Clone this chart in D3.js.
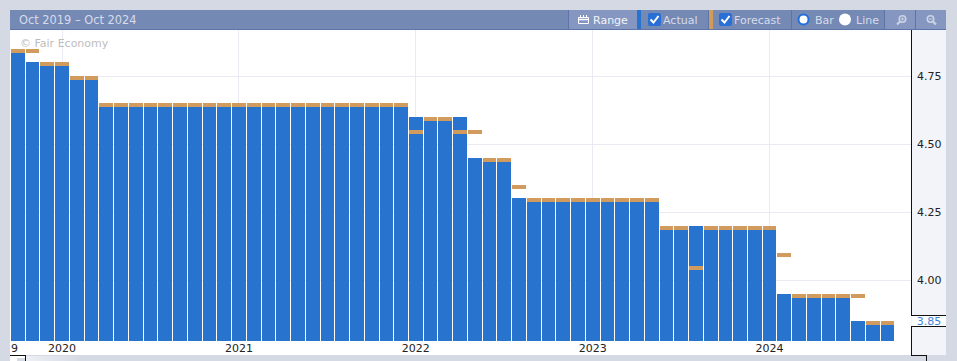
<!DOCTYPE html>
<html><head><meta charset="utf-8">
<script src="https://cdn.jsdelivr.net/npm/d3@7/dist/d3.min.js"></script>
<style>html,body{margin:0;padding:0;background:#d5d9e3;overflow:hidden}svg{display:block}text{font-family:"DejaVu Sans",sans-serif}</style>
</head><body><svg id="c" width="957" height="361"></svg>
<script>
const months = ["2019-10","2019-11","2019-12",
"2020-01","2020-02","2020-03","2020-04","2020-05","2020-06","2020-07","2020-08","2020-09","2020-10","2020-11","2020-12",
"2021-01","2021-02","2021-03","2021-04","2021-05","2021-06","2021-07","2021-08","2021-09","2021-10","2021-11","2021-12",
"2022-01","2022-02","2022-03","2022-04","2022-05","2022-06","2022-07","2022-08","2022-09","2022-10","2022-11","2022-12",
"2023-01","2023-02","2023-03","2023-04","2023-05","2023-06","2023-07","2023-08","2023-09","2023-10","2023-11","2023-12",
"2024-01","2024-02","2024-03","2024-04","2024-05","2024-06","2024-07","2024-08","2024-09"];
const actual = [4.85,4.80,4.80,4.80,4.75,4.75,
4.65,4.65,4.65,4.65,4.65,4.65,4.65,4.65,4.65,4.65,4.65,4.65,4.65,4.65,4.65,4.65,4.65,4.65,4.65,4.65,4.65,
4.60,4.60,4.60,4.60,4.45,4.45,4.45,4.30,
4.30,4.30,4.30,4.30,4.30,4.30,4.30,4.30,4.30,
4.20,4.20,4.20,4.20,4.20,4.20,4.20,4.20,
3.95,3.95,3.95,3.95,3.95,3.85,3.85,3.85];
const forecast = [4.85,4.85,4.80,4.80,4.75,4.75,
4.65,4.65,4.65,4.65,4.65,4.65,4.65,4.65,4.65,4.65,4.65,4.65,4.65,4.65,4.65,4.65,4.65,4.65,4.65,4.65,4.65,
4.55,4.60,4.60,4.55,4.55,4.45,4.45,4.35,
4.30,4.30,4.30,4.30,4.30,4.30,4.30,4.30,4.30,
4.20,4.20,4.05,4.20,4.20,4.20,4.20,4.20,
4.10,3.95,3.95,3.95,3.95,3.95,3.85,3.85];
const yTicks = [4.00,4.25,4.50,4.75];
const yearTicks = ["2020-01","2021-01","2022-01","2023-01","2024-01"];
const yearLabels = ["2020","2021","2022","2023","2024"];
const latest = 3.85;
const title = "Oct 2019 – Oct 2024";
const credit = "© Fair Economy";

const svg = d3.select("#c");
const pitch = 14.74;
const x = d3.scaleBand().domain(months).range([11,11+60*pitch-1]).paddingInner(1/pitch).paddingOuter(0);
const y = d3.scaleLinear().domain([4,4.75]).range([280,76]);
const plotBottom = 341;
const C = {blue:"#2873ce",orange:"#d19b5e",grid:"#eaeaf3",head:"#7589b5",headLight:"#8597c0",sep:"#5f74a6",txt:"#d6dcea",panel:"#f2f4f9"};

svg.append("rect").attr("x",10).attr("y",10).attr("width",936).attr("height",345).attr("fill","#fff");
svg.append("rect").attr("x",911).attr("y",30).attr("width",35).attr("height",325).attr("fill",C.panel);

// grid
const g = svg.append("g").attr("shape-rendering","crispEdges");
g.selectAll(".gy").data(yTicks).join("line").attr("x1",11).attr("x2",911)
 .attr("y1",d=>y(d)+.5).attr("y2",d=>y(d)+.5).attr("stroke",C.grid);
const gridX = d=>Math.floor(x(d)+x.bandwidth()/2)+.5;
g.selectAll(".gx").data(yearTicks).join("line").attr("y1",30).attr("y2",plotBottom)
 .attr("x1",gridX).attr("x2",gridX).attr("stroke",C.grid);

svg.append("text").attr("x",20).attr("y",47).attr("font-size",11).attr("fill","#bdbdbd").text(credit);

// bars
g.selectAll(".a").data(months).join("rect").attr("x",d=>x(d)).attr("width",x.bandwidth())
 .attr("y",(d,i)=>y(actual[i])).attr("height",(d,i)=>plotBottom-y(actual[i])).attr("fill",C.blue);
g.selectAll(".f").data(months).join("rect").attr("x",d=>x(d)).attr("width",x.bandwidth())
 .attr("y",(d,i)=>y(forecast[i])).attr("height",4).attr("fill",C.orange);

// y axis
const yAxis = d3.axisRight(y).tickValues(yTicks).tickSize(0).tickPadding(6).tickFormat(d3.format(".2f"));
const ya = svg.append("g").attr("transform","translate(911,0)").call(yAxis);
ya.select(".domain").remove();
ya.selectAll("text").attr("font-size",11).attr("font-family","DejaVu Sans").attr("fill","#222");

// x axis
const xAxis = d3.axisBottom(x).tickValues(yearTicks).tickSize(0).tickPadding(0).tickFormat((d,i)=>yearLabels[i]);
const xa = svg.append("g").attr("transform","translate(0,343)").call(xAxis);
xa.select(".domain").remove();
xa.selectAll("text").attr("font-size",11).attr("font-family","DejaVu Sans").attr("fill","#222").attr("y",9).attr("dy",0);
svg.append("text").attr("x",11).attr("y",352).attr("font-size",11).attr("fill","#222").text("9");

// lower scrollbar remnants
const defs = svg.append("defs");
const lg = defs.append("linearGradient").attr("id","fade");
lg.append("stop").attr("offset",0).attr("stop-color","#eef0f5");
lg.append("stop").attr("offset",1).attr("stop-color","#d5d9e3");
svg.append("rect").attr("x",26).attr("y",356).attr("width",56).attr("height",5).attr("fill","url(#fade)");
svg.append("rect").attr("x",10).attr("y",356).attr("width",15).attr("height",5).attr("fill","#fff");
svg.append("rect").attr("x",17).attr("y",358).attr("width",8).attr("height",3).attr("fill","#d5d9e3");

// frame lines
const k = svg.append("g").attr("shape-rendering","crispEdges").attr("stroke","#111").attr("fill","none");
k.append("path").attr("d","M911.5 30V315.5H946");
k.append("path").attr("d","M946 326.5H911.5V355.5H926.5V361");
k.append("path").attr("d","M10 355.5H25.5V361");
svg.append("rect").attr("x",912).attr("y",316).attr("width",34).attr("height",10).attr("fill","#fff");
svg.append("text").attr("x",929).attr("y",325).attr("text-anchor","middle").attr("font-size",11).attr("fill","#3d85d8").text(d3.format(".2f")(latest));

// header
const h = svg.append("g");
h.append("rect").attr("x",10).attr("y",10).attr("width",936).attr("height",19).attr("fill",C.head);
h.append("rect").attr("x",10).attr("y",29).attr("width",936).attr("height",1).attr("fill",C.sep);
h.append("text").attr("x",19).attr("y",24).attr("font-size",11.4).attr("fill",C.txt).text(title);
h.append("rect").attr("x",569).attr("y",10).attr("width",68).attr("height",19).attr("fill",C.headLight);
h.append("rect").attr("x",885).attr("y",10).attr("width",61).attr("height",19).attr("fill",C.headLight);
[568,708,791,884,915].forEach(v=>h.append("rect").attr("x",v).attr("y",10).attr("width",1).attr("height",19).attr("fill",C.sep));
h.append("rect").attr("x",637).attr("y",10).attr("width",4).attr("height",19).attr("fill",C.blue);
h.append("rect").attr("x",709).attr("y",10).attr("width",4).attr("height",19).attr("fill",C.orange);
// calendar icon
h.append("path").attr("d","M578.5 17.5h10v6h-10zM580.5 15v2.5M583.5 15v2.5M586.5 15v2.5").attr("fill","none").attr("stroke","#fff").attr("stroke-width",1);
h.append("path").attr("d","M578.5 19.5H588.5").attr("stroke","#fff").attr("stroke-width",1.5);
h.append("text").attr("x",593).attr("y",24).attr("font-size",11).attr("fill","#f2f4f9").text("Range");
function check(cx,label,tx){
  h.append("rect").attr("x",cx).attr("y",13).attr("width",13).attr("height",13).attr("rx",2).attr("fill","#2a6fd6");
  h.append("path").attr("d",`M${cx+2.5} 19.5l3 3l5-6.5`).attr("fill","none").attr("stroke","#fff").attr("stroke-width",2);
  h.append("text").attr("x",tx).attr("y",24).attr("font-size",11).attr("fill",C.txt).text(label);
}
check(648,"Actual",663);
check(719,"Forecast",734);
h.append("circle").attr("cx",803.5).attr("cy",19.5).attr("r",5).attr("fill","#fff").attr("stroke","#1f6fe0").attr("stroke-width",2);
h.append("text").attr("x",815).attr("y",24).attr("font-size",11).attr("fill",C.txt).text("Bar");
h.append("circle").attr("cx",845).attr("cy",19.5).attr("r",6).attr("fill","#fff");
h.append("text").attr("x",856).attr("y",24).attr("font-size",11).attr("fill",C.txt).text("Line");
// zoom icons
const ic = "#cbd3e4";
h.append("circle").attr("cx",902.5).attr("cy",19).attr("r",3.2).attr("fill","none").attr("stroke",ic).attr("stroke-width",1.6);
h.append("path").attr("d","M901 19H904M902.5 17.5V20.5").attr("stroke",ic).attr("stroke-width",1);
h.append("path").attr("d","M900 21.5l-3 3").attr("stroke",ic).attr("stroke-width",2.2);
h.append("circle").attr("cx",930.5).attr("cy",19).attr("r",3.2).attr("fill","none").attr("stroke",ic).attr("stroke-width",1.6);
h.append("path").attr("d","M929 19H932").attr("stroke",ic).attr("stroke-width",1);
h.append("path").attr("d","M933 21.5l3 3").attr("stroke",ic).attr("stroke-width",2.2);
</script></body></html>
